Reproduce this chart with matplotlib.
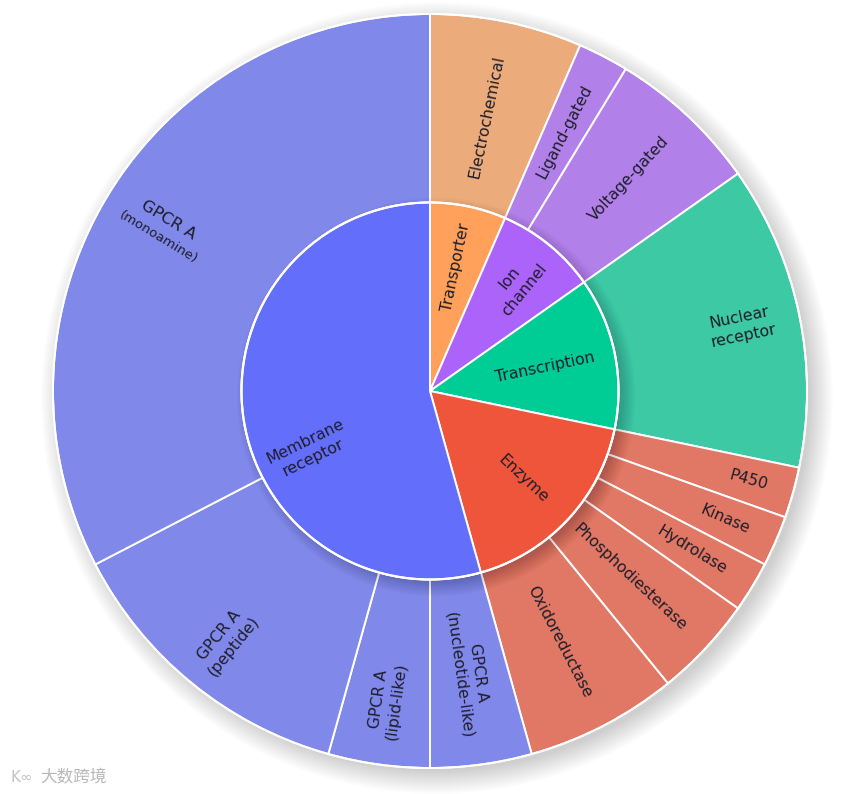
import numpy as np
import matplotlib
matplotlib.use("Agg")
import matplotlib.pyplot as plt
from matplotlib.patches import Circle

# ---------------- data ----------------
parents = ["Transporter", "Ion\nchannel", "Transcription", "Enzyme", "Membrane\nreceptor"]
parent_colors = ["#FFA15A", "#AB63FA", "#00CC96", "#EF553B", "#636EFA"]

children = ["Electrochemical",
            "Ligand-gated", "Voltage-gated",
            "Nuclear\nreceptor",
            "P450", "Kinase", "Hydrolase", "Phosphodiesterase", "Oxidoreductase",
            "GPCR A\n(nucleotide-like)", "GPCR A\n(lipid-like)", "GPCR A\n(peptide)",
            "GPCR A\n(monoamine)"]
child_parent = [0, 1, 1, 2, 3, 3, 3, 3, 3, 4, 4, 4, 4]
child_values = [3, 1, 3, 6, 1, 1, 1, 2, 3, 2, 2, 6, 15]

parent_values = [sum(v for v, p in zip(child_values, child_parent) if p == i)
                 for i in range(len(parents))]

# ---------------- style ----------------
W, H = 864, 794
cx, cy = 430, H - 391
R_out, R_in = 377, 188.5
text_color = "#1e1e2a"
FONT = "DejaVu Sans"
FS = 11.3


def lighten(hexc):
    c = np.array(matplotlib.colors.to_rgb(hexc)) * 255
    c = 0.69 * c + 60
    return tuple(np.clip(c, 0, 255) / 255)


child_colors = [lighten(parent_colors[p]) for p in child_parent]

fig = plt.figure(figsize=(W / 100, H / 100), dpi=100)
ax = fig.add_axes([0, 0, 1, 1])
ax.set_xlim(0, W)
ax.set_ylim(0, H)
ax.set_aspect("equal")
ax.axis("off")

# outer soft shadow
for i in range(24):
    ax.add_patch(Circle((cx + 7, cy - 7), R_out - 4 + i, color="black",
                        alpha=0.0075, lw=0, zorder=0))

# outer ring
wedges_o, _ = ax.pie(child_values, radius=R_out, center=(cx, cy), colors=child_colors,
                     counterclock=False, startangle=90, normalize=True,
                     wedgeprops=dict(width=R_out - R_in, edgecolor="white", linewidth=1.4))
for w in wedges_o:
    w.set_zorder(1)
ax.add_patch(Circle((cx, cy), R_out, fill=False, ec="white", lw=1.4, zorder=1.5))

# inner circle shadow onto outer ring
clip = Circle((cx, cy), R_out, transform=ax.transData)
for i in range(16):
    c = Circle((cx + 6, cy - 6), R_in - 4 + i, color="black", alpha=0.011, lw=0, zorder=2)
    ax.add_patch(c)
    c.set_clip_path(clip)

# inner ring
wedges_i, _ = ax.pie(parent_values, radius=R_in, center=(cx, cy), colors=parent_colors,
                     counterclock=False, startangle=90, normalize=True,
                     wedgeprops=dict(edgecolor="white", linewidth=1.4))
for w in wedges_i:
    w.set_zorder(3)
ax.add_patch(Circle((cx, cy), R_in, fill=False, ec="white", lw=1.6, zorder=3.5))

ax.set_xlim(0, W)
ax.set_ylim(0, H)


def radial_rot(theta):
    phi = 90 - theta
    while phi <= -90:
        phi += 180
    while phi > 90:
        phi -= 180
    return phi


def place(label, theta, r, rot=None, fs=FS):
    t = np.deg2rad(theta)
    x = cx + r * np.sin(t)
    y = cy + r * np.cos(t)
    if rot is None:
        rot = radial_rot(theta)
    ax.text(x, y, label, rotation=rot, rotation_mode="anchor", ha="center",
            va="center", fontsize=fs, family=FONT, color=text_color,
            linespacing=1.3, zorder=5)


total = sum(child_values)
# inner labels
inner_r = {0: 126, 1: 138, 2: 118, 3: 128}
cum = 0
for i, (lab, v) in enumerate(zip(parents, parent_values)):
    a0 = 360 * cum / total
    a1 = 360 * (cum + v) / total
    cum += v
    if i == 4:
        place(lab, 244, 134)
    else:
        place(lab, (a0 + a1) / 2, inner_r[i])

# outer labels
outer_r = [280, 292, 291, 318, 331, 322, 307, 273, 282, 286, 312, 322, 312]
cum = 0
for j, (lab, v) in enumerate(zip(children, child_values)):
    a0 = 360 * cum / total
    a1 = 360 * (cum + v) / total
    cum += v
    mid = (a0 + a1) / 2
    if j == len(children) - 1:
        l1, l2 = lab.split("\n")
        rot = radial_rot(mid)
        t = np.deg2rad(mid)
        x = cx + outer_r[j] * np.sin(t)
        y = cy + outer_r[j] * np.cos(t)
        ur = np.deg2rad(rot + 90)
        d = 10
        ax.text(x + d * np.cos(ur), y + d * np.sin(ur), l1, rotation=rot,
                rotation_mode="anchor", ha="center", va="center", fontsize=FS + 0.4,
                family=FONT, color=text_color, zorder=5)
        ax.text(x - d * np.cos(ur), y - d * np.sin(ur), l2, rotation=rot,
                rotation_mode="anchor", ha="center", va="center", fontsize=FS - 1.8,
                family=FONT, color=text_color, zorder=5)
    else:
        place(lab, mid, outer_r[j])

# watermark
ax.text(40, H - 778, "大数跨境", fontsize=12, family=["Noto Sans CJK SC", "DejaVu Sans"],
        color="#b8b8b8", ha="left", va="center", zorder=6)
ax.text(10, H - 778, "K∞", fontsize=11, family="DejaVu Sans", color="#c4c4c4",
        ha="left", va="center", zorder=6)

fig.savefig("out.png", dpi=100, facecolor="white")
